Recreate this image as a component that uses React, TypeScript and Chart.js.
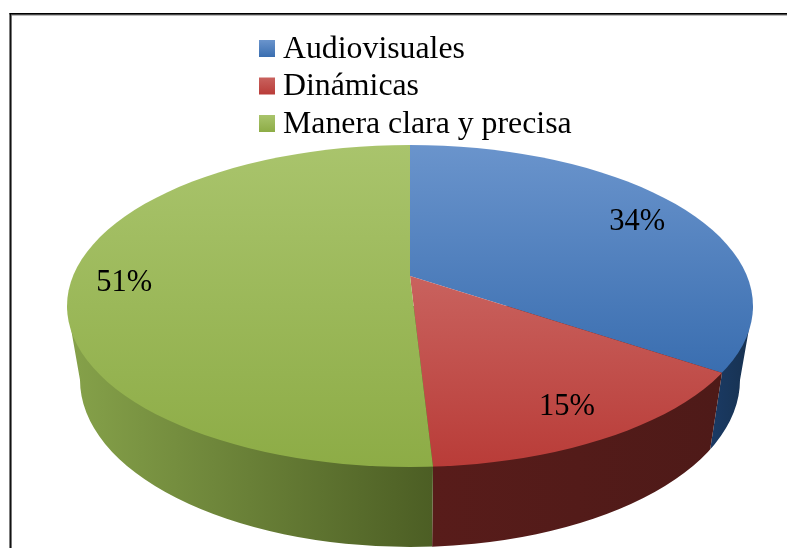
import React, { useEffect, useRef } from "react";
import { Chart, registerables } from "chart.js";

Chart.register(...registerables);

const categories = ["Audiovisuales", "Dinámicas", "Manera clara y precisa"];
const shares = [34.3, 14.8, 50.9];
const percentLabels = ["34%", "15%", "51%"];

const surfaceTop = ["#6a94cc", "#c9625e", "#a9c46c"];
const surfaceBottom = ["#3a6eb0", "#b93c38", "#8dac46"];
const surfaceSpan = [[145, 372], [276, 467], [145, 467]];
const wallLeft = ["#1a3a64", "#581c1a", "#86a24a"];
const wallRight = ["#17314f", "#4e1a18", "#4c5e24"];
const wallSpan = [[712, 753], [432, 722], [67, 432]];
const labelDistance = [258, 315, 286];

const W = 787;
const H = 548;
const TOP = { cx: 410, cy: 306, rx: 343, ry: 161 };
const BOTTOM = { cx: 410, cy: 380, rx: 330, ry: 167 };
const APEX = { x: 410, y: 276 };
const K = TOP.ry / TOP.rx;
const FONT = "Liberation Serif";

function rimParam(angle: number) {
  const d = (TOP.cy - APEX.y) / TOP.ry;
  const s = Math.sin(angle);
  const u = d * s + Math.sqrt(d * d * s * s - d * d + 1);
  return { c: u * Math.cos(angle), s: u * s - d };
}

const pie3d = {
  id: "pie3d",
  beforeDraw(chart: any) {
    const ctx = chart.ctx;
    ctx.save();
    ctx.fillStyle = "#ffffff";
    ctx.fillRect(0, 0, W, H);
    ctx.fillStyle = "#777777";
    ctx.fillRect(10, 14, W, 1.5);
    ctx.fillRect(10.5, 14, 1.5, H);
    ctx.fillStyle = "#000000";
    ctx.fillRect(9.5, 13, W, 1.4);
    ctx.fillRect(9.5, 13, 1.4, H);
    ctx.restore();
  },
  beforeDatasetsDraw(chart: any) {
    const ctx = chart.ctx;
    const arcs = chart.getDatasetMeta(0).data;
    // side wall
    const rims = [arcs[0].endAngle, arcs[1].endAngle].map((a: number) => {
      const p = rimParam(a);
      return {
        xt: TOP.cx + TOP.rx * p.c,
        yt: TOP.cy + TOP.ry * p.s,
        xb: BOTTOM.cx + BOTTOM.rx * p.c,
        yb: BOTTOM.cy + BOTTOM.ry * p.s,
      };
    });
    const [r0, r1] = rims;
    const regions = [
      [[r0.xt, r0.yt], [r0.xb, r0.yb], [r0.xb, H + 50], [W + 50, H + 50], [W + 50, 0], [r0.xt, 0]],
      [[r1.xt, 0], [r1.xt, r1.yt], [r1.xb, r1.yb], [r1.xb, H + 50], [r0.xb, H + 50], [r0.xb, r0.yb], [r0.xt, r0.yt], [r0.xt, 0]],
      [[-50, 0], [r1.xt, 0], [r1.xt, r1.yt], [r1.xb, r1.yb], [r1.xb, H + 50], [-50, H + 50]],
    ];
    regions.forEach((poly, i) => {
      ctx.save();
      ctx.beginPath();
      poly.forEach(([x, y], j) => (j ? ctx.lineTo(x, y) : ctx.moveTo(x, y)));
      ctx.closePath();
      ctx.clip();
      const g = ctx.createLinearGradient(wallSpan[i][0], 0, wallSpan[i][1], 0);
      g.addColorStop(0, wallLeft[i]);
      g.addColorStop(1, wallRight[i]);
      ctx.fillStyle = g;
      ctx.beginPath();
      ctx.moveTo(TOP.cx - TOP.rx, TOP.cy);
      ctx.lineTo(TOP.cx + TOP.rx, TOP.cy);
      ctx.lineTo(BOTTOM.cx + BOTTOM.rx, BOTTOM.cy);
      ctx.ellipse(BOTTOM.cx, BOTTOM.cy, BOTTOM.rx, BOTTOM.ry, 0, 0, Math.PI);
      ctx.closePath();
      ctx.fill();
      ctx.restore();
    });
    // top surface: the library's arcs, flattened about the apex and cut to the rim
    ctx.save();
    ctx.beginPath();
    ctx.ellipse(TOP.cx, TOP.cy, TOP.rx, TOP.ry, 0, 0, Math.PI * 2);
    ctx.clip();
    ctx.translate(APEX.x, APEX.y);
    ctx.scale(1, K);
    ctx.translate(-arcs[0].x, -arcs[0].y);
  },
  afterDatasetsDraw(chart: any) {
    const ctx = chart.ctx;
    ctx.restore();
    const arcs = chart.getDatasetMeta(0).data;
    ctx.save();
    ctx.fillStyle = "#000000";
    ctx.textBaseline = "middle";
    ctx.textAlign = "center";
    ctx.font = `30.5px "${FONT}"`;
    arcs.forEach((arc: any, i: number) => {
      const a = (arc.startAngle + arc.endAngle) / 2;
      const d = labelDistance[i];
      ctx.fillText(percentLabels[i], APEX.x + d * Math.cos(a), APEX.y + 3 + d * K * Math.sin(a));
    });
    // legend
    ctx.textAlign = "left";
    ctx.font = `31.8px "${FONT}"`;
    categories.forEach((name, i) => {
      const y = 48.5 + i * 37.5;
      const g = ctx.createLinearGradient(0, y - 8.5, 0, y + 8.5);
      g.addColorStop(0, surfaceTop[i]);
      g.addColorStop(1, surfaceBottom[i]);
      ctx.fillStyle = g;
      ctx.fillRect(259, y - 8.5, 16, 17);
      ctx.fillStyle = "#000000";
      ctx.fillText(name, 283, y + 1);
    });
    ctx.restore();
  },
};

export default function App() {
  const ref = useRef<HTMLCanvasElement>(null);
  useEffect(() => {
    const chart = new Chart(ref.current as HTMLCanvasElement, {
      type: "pie",
      data: {
        labels: categories,
        datasets: [
          {
            data: shares,
            borderWidth: 0,
            clip: false as any,
            backgroundColor: (c: any) => {
              const i = c.dataIndex ?? 0;
              const area = c.chart.chartArea;
              if (!area) return surfaceBottom[i];
              const mid = (area.top + area.bottom) / 2;
              const toUser = (y: number) => mid + (y - APEX.y) / K;
              const g = c.chart.ctx.createLinearGradient(0, toUser(surfaceSpan[i][0]), 0, toUser(surfaceSpan[i][1]));
              g.addColorStop(0, surfaceTop[i]);
              g.addColorStop(1, surfaceBottom[i]);
              return g;
            },
          },
        ],
      },
      options: {
        responsive: false,
        animation: false,
        events: [],
        radius: 700,
        layout: { padding: 0 },
        plugins: { legend: { display: false }, tooltip: { enabled: false } },
      } as any,
      plugins: [pie3d],
    });
    return () => chart.destroy();
  }, []);
  return (
    <canvas
      ref={ref}
      width={W}
      height={H}
      style={{ position: "absolute", left: 0, top: 0, display: "block" }}
    />
  );
}
